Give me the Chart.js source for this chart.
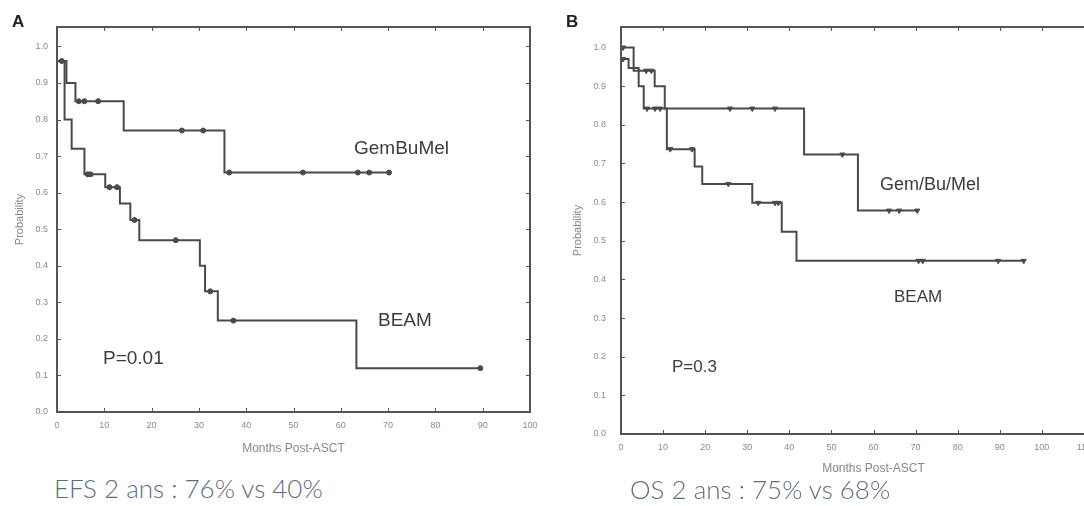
<!DOCTYPE html>
<html lang="fr">
<head>
  <meta charset="UTF-8">
  <title>EFS / OS post-ASCT</title>
  <script src="https://cdn.jsdelivr.net/npm/chart.js"></script>
  <style>
    html, body {
      margin: 0;
      padding: 0;
      background: #fff;
    }
    #page {
      position: relative;
      width: 1084px;
      height: 506px;
      overflow: hidden;
      font-family: "Liberation Sans", Arial, sans-serif;
    }
    canvas { position: absolute; top: 0; }
    #efsChart { left: 0; }
    #osChart { left: 540px; }
    .lbl {
      position: absolute;
      line-height: 1;
      color: #3c3c3c;
      white-space: nowrap;
    }
    .panel { font-weight: bold; font-size: 17px; color: #222; }
    .caption {
      font-family: Lato, "Open Sans", sans-serif;
      font-weight: 300;
      font-size: 26px;
      color: #5d6d7e;
    }
  </style>
</head>
<body>
<div id="page">
  <canvas id="efsChart" width="540" height="470"></canvas>
  <canvas id="osChart" width="596" height="485"></canvas>

  <div class="lbl panel" style="left:12px; top:13px;">A</div>
  <div class="lbl panel" style="left:566px; top:13px;">B</div>

  <div class="lbl" style="left:354px; top:138px; font-size:19px;">GemBuMel</div>
  <div class="lbl" style="left:378px; top:310px; font-size:19px;">BEAM</div>
  <div class="lbl" style="left:103px; top:348px; font-size:19px;">P=0.01</div>

  <div class="lbl" style="left:880px; top:175px; font-size:18px;">Gem/Bu/Mel</div>
  <div class="lbl" style="left:894px; top:288px; font-size:17px;">BEAM</div>
  <div class="lbl" style="left:672px; top:358px; font-size:17px;">P=0.3</div>

  <div class="lbl caption" style="left:54px; top:475px;">EFS 2 ans : 76% vs 40%</div>
  <div class="lbl caption" style="left:630px; top:476px;">OS 2 ans : 75% vs 68%</div>
</div>

<script>
  // EFS (panel A): times in months, survival probability after each step
  const efsGemTimes = [0, 2.0, 3.9, 14.1, 35.4, 70.2];
  const efsGemProbs = [0.96, 0.90, 0.85, 0.77, 0.655, 0.655];
  const efsGemCensored = [1.0, 4.6, 5.8, 8.7, 26.4, 30.9, 36.4, 52, 63.6, 66, 70.2];

  const efsBeamTimes = [0, 1.6, 3.1, 5.8, 10.2, 13.3, 15.5, 17.4, 30.2, 31.3, 34.0, 63.3, 89.5];
  const efsBeamProbs = [0.96, 0.80, 0.72, 0.65, 0.615, 0.57, 0.525, 0.47, 0.40, 0.33, 0.25, 0.12, 0.12];
  const efsBeamCensored = [6.5, 7.1, 11.1, 12.7, 16.4, 25.1, 32.4, 37.3, 89.5];

  // OS (panel B)
  const osGemTimes = [0, 3.0, 8.0, 10.4, 43.5, 56.3, 70.4];
  const osGemProbs = [1.0, 0.94, 0.90, 0.842, 0.723, 0.578, 0.578];
  const osGemCensored = [0.5, 6.0, 7.2, 25.9, 31.2, 36.6, 52.6, 63.7, 66.1, 70.4];

  const osBeamTimes = [0, 1.8, 4.2, 5.4, 10.9, 17.5, 19.3, 31.2, 38.2, 41.7, 95.7];
  const osBeamProbs = [0.97, 0.947, 0.90, 0.842, 0.737, 0.692, 0.647, 0.598, 0.523, 0.448, 0.448];
  const osBeamCensored = [0.5, 6.2, 8.1, 9.3, 11.7, 16.9, 25.5, 32.6, 36.6, 37.4, 70.7, 71.7, 89.6, 95.7];

  const lineColor = '#4a4a4a';
  const tickColor = '#8a8a8a';

  // value of a KM step curve at time t
  function stepValue(times, probs, t) {
    let p = probs[0];
    for (let i = 0; i < times.length; i++) {
      if (times[i] <= t) p = probs[i];
    }
    return p;
  }

  function curveData(times, probs) {
    return times.map((t, i) => ({ x: t, y: probs[i] }));
  }

  function censorData(times, probs, cens) {
    return cens.map(t => ({ x: t, y: stepValue(times, probs, t) }));
  }

  // frame around the plot area with small inward ticks on all four sides
  const framePlugin = {
    id: 'frame',
    afterDatasetsDraw(chart) {
      const { ctx, chartArea: a, scales: { x, y } } = chart;
      ctx.save();
      ctx.strokeStyle = '#555';
      ctx.lineWidth = 2;
      ctx.strokeRect(a.left, a.top, a.right - a.left, a.bottom - a.top);
      ctx.lineWidth = 1;
      ctx.beginPath();
      x.ticks.forEach((t, i) => {
        const px = Math.round(x.getPixelForTick(i)) + 0.5;
        ctx.moveTo(px, a.bottom); ctx.lineTo(px, a.bottom - 4);
        ctx.moveTo(px, a.top); ctx.lineTo(px, a.top + 4);
      });
      y.ticks.forEach((t, i) => {
        const py = Math.round(y.getPixelForTick(i)) + 0.5;
        ctx.moveTo(a.left, py); ctx.lineTo(a.left + 4, py);
        ctx.moveTo(a.right, py); ctx.lineTo(a.right - 4, py);
      });
      ctx.stroke();
      ctx.restore();
    }
  };

  function makeChart(id, cfg) {
    const ctx = document.getElementById(id).getContext('2d');
    const series = [];
    cfg.curves.forEach(c => {
      series.push({
        data: curveData(c.times, c.probs),
        showLine: true,
        stepped: true,
        borderColor: lineColor,
        borderWidth: 2,
        pointRadius: 0
      });
      series.push({
        data: censorData(c.times, c.probs, c.censored),
        showLine: false,
        pointStyle: cfg.marker,
        rotation: cfg.marker === 'triangle' ? 180 : 0,
        pointRadius: cfg.markerSize,
        backgroundColor: lineColor,
        borderColor: lineColor,
        borderWidth: 1
      });
    });

    return new Chart(ctx, {
      type: 'scatter',
      data: { datasets: series },
      options: {
        responsive: false,
        animation: false,
        layout: { padding: { left: 0, top: 27, right: 10, bottom: 0 } },
        plugins: { legend: { display: false }, tooltip: { enabled: false } },
        scales: {
          x: {
            type: 'linear',
            min: 0,
            max: cfg.xMax,
            // fixed axis band, no extra room for the end labels
            afterFit: s => {
              s.height = cfg.xHeight;
              s.paddingLeft = 0;
              s.paddingRight = 0;
            },
            grid: { display: false, drawTicks: false },
            border: { display: false },
            ticks: {
              stepSize: 10,
              autoSkip: false,
              maxRotation: 0,
              padding: 8,
              color: tickColor,
              font: { size: 9, family: 'Liberation Sans' }
            },
            title: {
              display: true,
              text: 'Months Post-ASCT',
              color: '#888',
              font: { size: 12, family: 'Liberation Sans' },
              padding: { top: 0, bottom: cfg.xTitlePad }
            }
          },
          y: {
            min: 0,
            max: 1.053,
            afterFit: s => {
              s.width = cfg.yWidth;
              s.paddingTop = 0;
              s.paddingBottom = 0;
            },
            grid: { display: false, drawTicks: false },
            border: { display: false },
            ticks: {
              stepSize: 0.1,
              includeBounds: false,
              padding: cfg.yTickPad,
              color: tickColor,
              font: { size: 9, family: 'Liberation Sans' },
              callback: v => v.toFixed(1)
            },
            title: {
              display: true,
              text: 'Probability',
              color: '#888',
              font: { size: 11, family: 'Liberation Sans' },
              padding: { top: cfg.yTitlePad, bottom: 0 }
            }
          }
        }
      },
      plugins: [framePlugin]
    });
  }

  makeChart('efsChart', {
    xMax: 100,
    xHeight: 58,
    xTitlePad: 14,
    yWidth: 57,
    yTickPad: 9,
    yTitlePad: 13,
    marker: 'circle',
    markerSize: 2.5,
    curves: [
      { times: efsGemTimes, probs: efsGemProbs, censored: efsGemCensored },
      { times: efsBeamTimes, probs: efsBeamProbs, censored: efsBeamCensored }
    ]
  });

  makeChart('osChart', {
    xMax: 120,
    xHeight: 51,
    xTitlePad: 9,
    yWidth: 81,
    yTickPad: 15,
    yTitlePad: 31,
    marker: 'triangle',
    markerSize: 3,
    curves: [
      { times: osGemTimes, probs: osGemProbs, censored: osGemCensored },
      { times: osBeamTimes, probs: osBeamProbs, censored: osBeamCensored }
    ]
  });
</script>
</body>
</html>
